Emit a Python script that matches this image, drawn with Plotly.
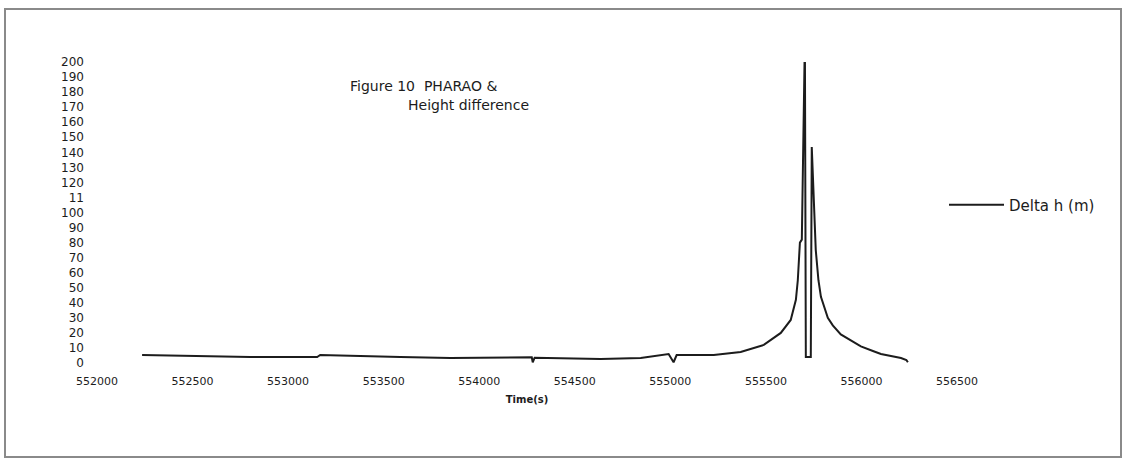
import plotly.graph_objects as go

# Time (s) and Delta h (m)
time_s = [552236, 552540, 552801, 553152, 553168, 553587, 553849, 554275, 554280, 554290,
          554635, 554845, 554991, 555017, 555033, 555227, 555368, 555489, 555578, 555630,
          555657, 555667, 555678, 555688, 555704, 555709, 555735, 555740, 555761, 555775,
          555788, 555824, 555850, 555892, 555997, 556060, 556102, 556207, 556235, 556243]
delta_h = [5.3, 4.7, 4.0, 4.0, 5.3, 4.0, 3.3, 3.8, 0.5, 3.5,
           2.7, 3.3, 6.0, 0.5, 5.3, 5.3, 7.3, 12.0, 20.0, 28.6,
           42.0, 55.0, 80.0, 82.0, 215.0, 4.0, 4.0, 143.5, 75.0, 55.0,
           44.0, 30.0, 25.0, 19.0, 11.0, 8.0, 6.0, 3.3, 2.0, 0.5]

y_tick_vals = list(range(0, 201, 10))
y_tick_text = ["0", "10", "20", "30", "40", "50", "60", "70", "80", "90", "100",
               "11", "120", "130", "140", "150", "160", "170", "180", "190", "200"]
x_tick_vals = [552000, 552500, 553000, 553500, 554000, 554500, 555000, 555500, 556000, 556500]

series_name = "Delta h (m)"
title_line1 = "Figure 10  PHARAO &"
title_line2 = "Height difference"
x_title = "Time(s)"

FONT = "DejaVu Sans, Liberation Sans, Arial, sans-serif"
INK = "#1c1c1c"

fig = go.Figure()
fig.add_trace(go.Scatter(
    x=time_s, y=delta_h, mode="lines", name=series_name,
    line=dict(color=INK, width=2),
    cliponaxis=True,
))

L, R, T, B = 97, 1126 - 957, 62, 460 - 363
pw, ph = 1126 - L - R, 460 - T - B

fig.update_layout(
    template="none",
    width=1126, height=460,
    margin=dict(l=L, r=R, t=T, b=B, pad=0),
    paper_bgcolor="white", plot_bgcolor="white",
    font=dict(family=FONT, color=INK, size=11),
    showlegend=True,
    legend=dict(
        x=(944 - L) / pw, xanchor="left",
        y=(363 - 205) / ph, yanchor="middle",
        itemwidth=55,
        bgcolor="rgba(0,0,0,0)", borderwidth=0,
        font=dict(family=FONT, size=15, color=INK),
    ),
    xaxis=dict(
        range=[552000, 556500], tickmode="array", tickvals=x_tick_vals,
        ticktext=[str(v) for v in x_tick_vals],
        showgrid=False, zeroline=False, showline=False, ticks="",
        ticklabelstandoff=10,
        tickfont=dict(family=FONT, size=11, color=INK),
        title=dict(text="<b>" + x_title + "</b>", font=dict(family=FONT, size=10, color=INK), standoff=8),
    ),
    yaxis=dict(
        range=[0, 200], tickmode="array", tickvals=y_tick_vals, ticktext=y_tick_text,
        showgrid=False, zeroline=False, showline=False, ticks="",
        ticklabelstandoff=12,
        tickfont=dict(family=FONT, size=12, color=INK),
    ),
    annotations=[
        dict(text=title_line1, xref="paper", yref="paper",
             x=(348 - L) / pw, y=(363 - 86) / ph, xanchor="left", yanchor="middle",
             showarrow=False, font=dict(family=FONT, size=14, color=INK)),
        dict(text=title_line2, xref="paper", yref="paper",
             x=(406 - L) / pw, y=(363 - 105) / ph, xanchor="left", yanchor="middle",
             showarrow=False, font=dict(family=FONT, size=14, color=INK)),
    ],
    shapes=[dict(
        type="rect", xref="paper", yref="paper",
        x0=(5 - L) / pw, x1=(1121 - L) / pw,
        y0=(363 - 457) / ph, y1=(363 - 9) / ph,
        line=dict(color="#8a8a8a", width=2), fillcolor="rgba(0,0,0,0)", layer="below",
    )],
)

fig.write_html("out.html")
